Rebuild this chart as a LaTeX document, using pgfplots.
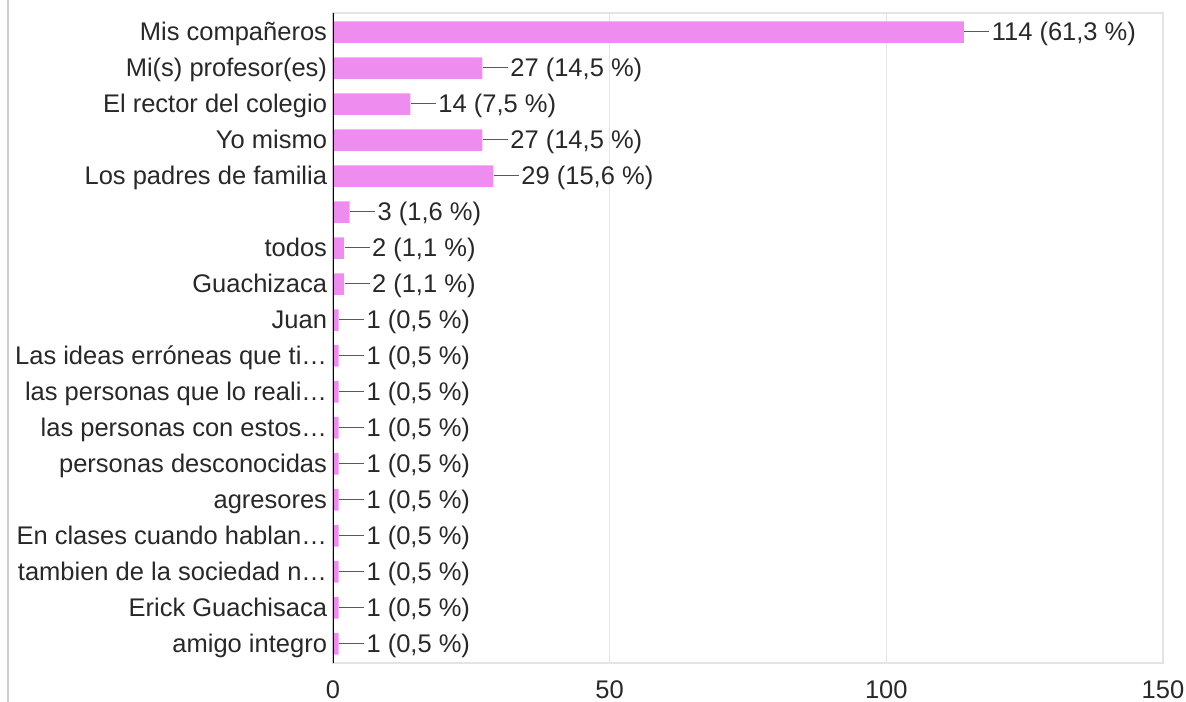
\documentclass[border=0pt]{standalone}
\usepackage{fontspec}
\setmainfont{Liberation Sans}
\usepackage{pgfplots}
\pgfplotsset{compat=1.18}
\definecolor{barpink}{RGB}{239,140,240}
\definecolor{txt}{RGB}{40,40,40}
\definecolor{gridc}{RGB}{228,228,228}
\begin{document}
\begin{tikzpicture}
\path[use as bounding box] (0,0) rectangle (474.4pt,280.8pt);
\draw[gray!40, line width=0.6pt] (3.2pt,0) -- (3.2pt,280.8pt);
\begin{axis}[
  at={(133.2pt,15.6pt)}, anchor=south west,
  scale only axis, width=332pt, height=260pt,
  xbar, bar width=8.6pt,
  xmin=0, xmax=150, ymin=-0.53, ymax=17.53, y dir=reverse,
  xtick={0,50,100,150},
  ytick={0,...,17},
  yticklabels={Mis compañeros, Mi(s) profesor(es), El rector del colegio, Yo mismo, Los padres de familia, {}, todos, Guachizaca, Juan, Las ideas erróneas que ti…, las personas que lo reali…, las personas con estos…, personas desconocidas, agresores, En clases cuando hablan…, tambien de la sociedad n…, Erick Guachisaca, amigo integro},
  major tick length=0pt,
  xmajorgrids, grid style={gridc, line width=0.6pt},
  axis line style={gridc, line width=0.6pt},
  /pgf/number format/assume math mode=true,
  tick label style={font=\fontsize{10.2pt}{12pt}\selectfont, text=txt},
  yticklabel style={inner sep=0pt, xshift=-2.2pt, text height=0.7em, text depth=0.04em},
  xticklabel style={inner sep=0pt, yshift=-7pt},
  point meta=explicit symbolic,
  nodes near coords={\textcolor{gray!70!black}{\rule[0.33em]{10pt}{0.5pt}}\hspace{1pt}\pgfplotspointmeta},
  every node near coord/.append style={anchor=west, inner sep=0pt, text height=0.7em, text depth=0.04em, font=\fontsize{10.2pt}{12pt}\selectfont, text=txt},
]
\addplot[fill=barpink, draw=none] coordinates {
  (114,0) [114 (61,3 \%)]
  (27,1) [27 (14,5 \%)]
  (14,2) [14 (7,5 \%)]
  (27,3) [27 (14,5 \%)]
  (29,4) [29 (15,6 \%)]
  (3,5) [3 (1,6 \%)]
  (2,6) [2 (1,1 \%)]
  (2,7) [2 (1,1 \%)]
  (1,8) [1 (0,5 \%)]
  (1,9) [1 (0,5 \%)]
  (1,10) [1 (0,5 \%)]
  (1,11) [1 (0,5 \%)]
  (1,12) [1 (0,5 \%)]
  (1,13) [1 (0,5 \%)]
  (1,14) [1 (0,5 \%)]
  (1,15) [1 (0,5 \%)]
  (1,16) [1 (0,5 \%)]
  (1,17) [1 (0,5 \%)]
};
\draw[black, line width=0.9pt] (axis cs:0,-0.53) -- (axis cs:0,17.53);
\end{axis}
\end{tikzpicture}
\end{document}
